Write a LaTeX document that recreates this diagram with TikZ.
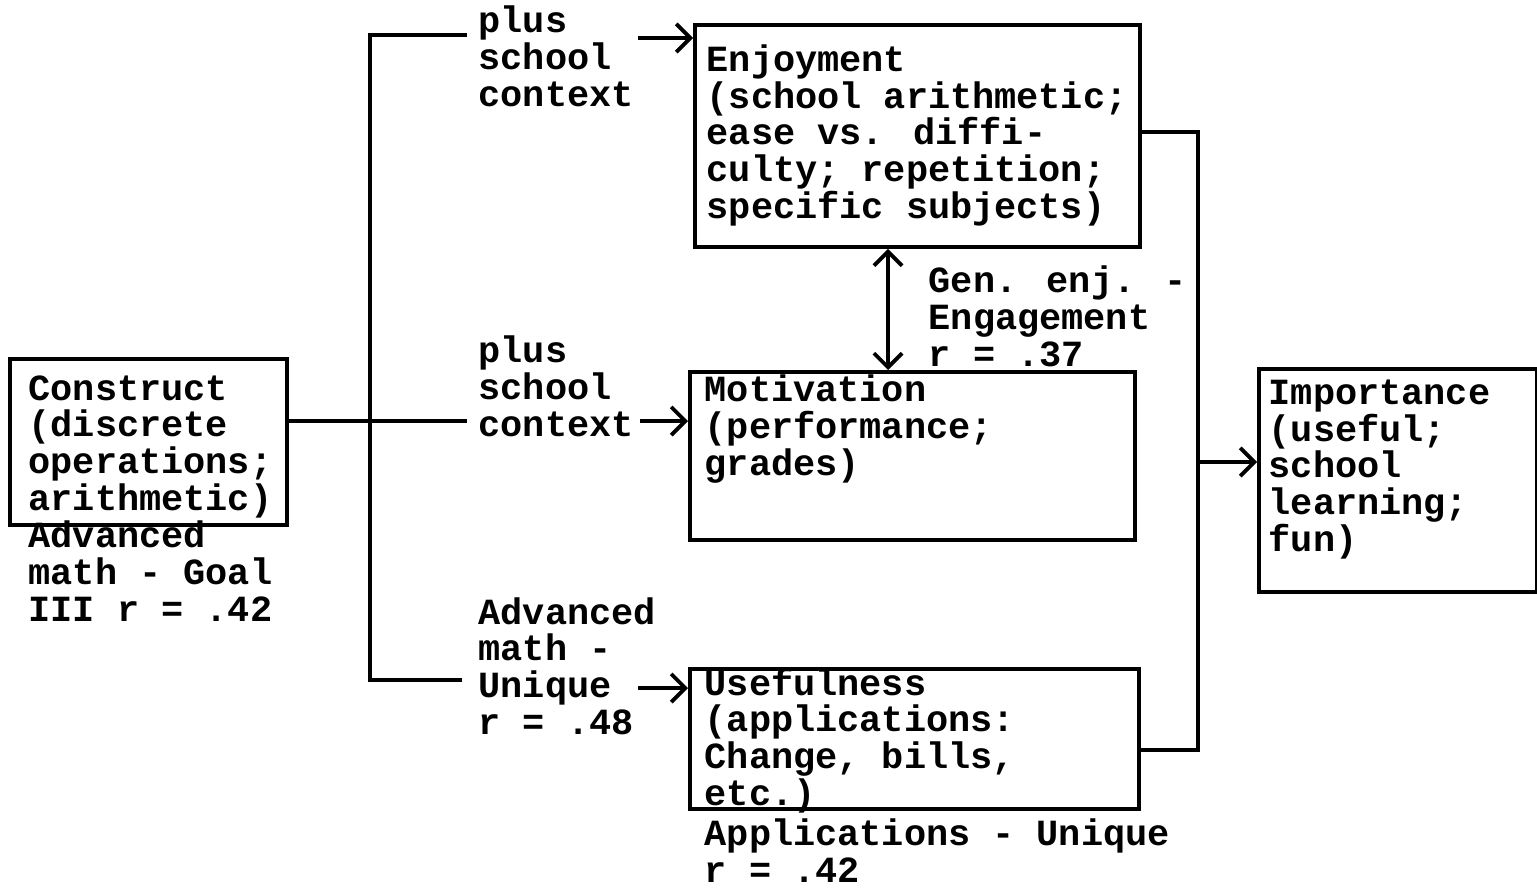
\documentclass[tikz,border=0pt]{standalone}
\usepackage{fontspec}
\setmainfont{Liberation Mono}
\usetikzlibrary{positioning}
\usetikzlibrary{arrows.meta}

\begin{document}
\begin{tikzpicture}[>={Straight Barb[length=4pt,width=8pt]},
    box/.style={draw, line width=1.1pt, inner sep=0pt, anchor=north west},
    wire/.style={line width=1.1pt},
    txt/.style={anchor=base west, align=left, inner sep=0pt, font=\fontsize{10.5}{10.4}\selectfont\bfseries}]
    \useasboundingbox (0,0) rectangle (15.37,-8.88);
    % boxes
    \node[box, minimum width=2.77cm, minimum height=1.66cm] (cons) at (0.08,-3.57) {};
    \node[box, minimum width=4.45cm, minimum height=2.22cm] (enj) at (6.93,-0.23) {};
    \node[box, minimum width=4.45cm, minimum height=1.68cm] (mot) at (6.88,-3.70) {};
    \node[box, minimum width=4.49cm, minimum height=1.40cm] (use) at (6.88,-6.67) {};
    \node[box, minimum width=2.78cm, minimum height=2.23cm] (imp) at (12.57,-3.67) {};
    % texts (placed at the baseline of their last line)
    \node[txt] (cons-t) at (0.28,-5.10) {Construct\\(discrete\\operations;\\arithmetic)};
    \node[txt] (cons-r) at (0.28,-6.21) {Advanced\\math - Goal\\III r = .42};
    \node[txt] (ctx1) at (4.78,-1.06) {plus\\school\\context};
    \node[txt] (ctx2) at (4.78,-4.36) {plus\\school\\context};
    \node[txt] (adv) at (4.78,-7.34) {Advanced\\math -\\Unique\\r = .48};
    \node[txt] (enj-t) at (7.06,-2.18) {Enjoyment\\(school arithmetic;\\ease vs. diffi-\\culty; repetition;\\specific subjects)};
    \node[txt] (gen) at (9.28,-3.66) {Gen. enj. -\\Engagement\\r = .37};
    \node[txt] (mot-t) at (7.04,-4.75) {Motivation\\(performance;\\grades)};
    \node[txt] (use-t) at (7.04,-8.05) {Usefulness\\(applications:\\Change, bills,\\etc.)};
    \node[txt] (app) at (7.04,-8.82) {Applications - Unique\\r = .42};
    \node[txt] (imp-t) at (12.68,-5.51) {Importance\\(useful;\\school\\learning;\\fun)};
    % left fan
    \coordinate (split) at (3.70,-4.21);
    \coordinate (ctx1-in) at (4.67,-0.35);
    \coordinate (ctx2-in) at (4.67,-4.21);
    \coordinate (adv-in) at (4.62,-6.80);
    \draw[wire] (cons.east |- split) -- (split) -- (ctx2-in);
    \draw[wire] (ctx1-in) -| (split) |- (adv-in);
    \coordinate (ctx1-out) at (6.38,-0.38);
    \coordinate (ctx2-out) at (6.40,-4.21);
    \coordinate (adv-out) at (6.38,-6.88);
    \draw[wire, ->] (ctx1-out) -- (enj.west |- ctx1-out);
    \draw[wire, ->] (ctx2-out) -- (mot.west |- ctx2-out);
    \draw[wire, ->] (adv-out) -- (use.west |- adv-out);
    % middle link
    \coordinate (dbl) at (8.88,0);
    \draw[wire, <->] (enj.south -| dbl) -- (mot.north -| dbl);
    % right bus
    \coordinate (bus) at (11.98,-4.62);
    \draw[wire] ([yshift=0.04cm]enj.east) -| (bus);
    \draw[wire] ([yshift=-0.11cm]use.east) -| (bus);
    \draw[wire, ->] (bus) -- (imp.west |- bus);
\end{tikzpicture}
\end{document}
